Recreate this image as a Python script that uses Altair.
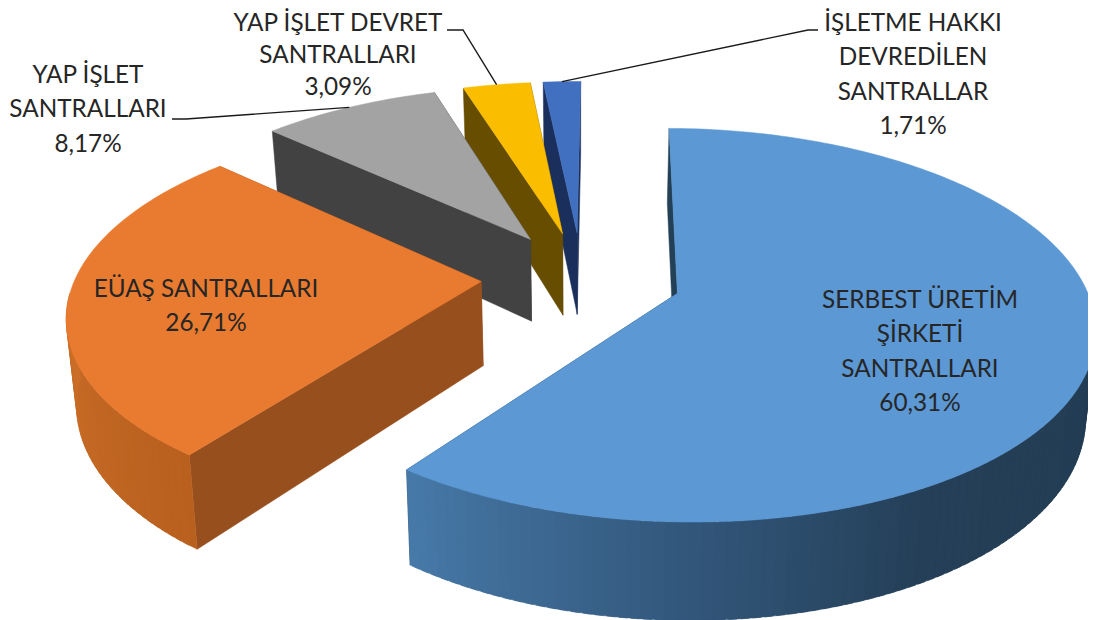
import math
import altair as alt
import pandas as pd

# ---- values
names = ["SERBEST ÜRETİM\nŞİRKETİ\nSANTRALLARI", "EÜAŞ SANTRALLARI", "YAP İŞLET\nSANTRALLARI",
         "YAP İŞLET DEVRET\nSANTRALLARI", "İŞLETME HAKKI\nDEVREDİLEN\nSANTRALLAR"]
shares = [60.31, 26.71, 8.17, 3.09, 1.71]
share_text = ["60,31%", "26,71%", "8,17%", "3,09%", "1,71%"]

# ---- styles
top_col = ["#5b98d4", "#e97b30", "#a3a3a3", "#fabd00", "#4170c0"]
cut_col = ["#234057", "#984f1e", "#424242", "#664d00", "#1b2f5c"]
wall_stops = {
    0: [(90, "#233c53"), (150, "#243f57"), (180, "#32567a"), (218, "#477aa9")],
    1: [(218, "#b9601f"), (270, "#cc7029")],
}
FONT = "Lato"
TXT = "#262626"

# ---- projection of the tilted, exploded pie
XC, YC, A, B, P, H, EXPLODE, START = 581.5, 283.0, 408.0, 189.0, 0.135, 84.0, 0.246, 0.5
BOTTOM_X = 0.98
APEX_LIFT = 5.0


def proj(X, Y, bottom=False, lift=0.0):
    w = 1 / (1 - P * Y)
    if bottom:
        return XC + BOTTOM_X * A * X * w, YC + B * Y * w + H * w - lift
    return XC + A * X * w, YC + B * Y * w - lift


def mix(stops, t):
    if t <= stops[0][0]:
        return stops[0][1]
    for (t0, c0), (t1, c1) in zip(stops, stops[1:]):
        if t <= t1:
            f = (t - t0) / (t1 - t0)
            a = [int(c0[i:i + 2], 16) for i in (1, 3, 5)]
            b = [int(c1[i:i + 2], 16) for i in (1, 3, 5)]
            return "#%02x%02x%02x" % tuple(round(u + (v - u) * f) for u, v in zip(a, b))
    return stops[-1][1]


total = sum(shares)
spans = []
cur = START
for s in shares:
    d = 360 * s / total
    spans.append((cur, cur + d))
    cur += d


def offset(k):
    mid = math.radians(sum(spans[k]) / 2)
    return EXPLODE * math.sin(mid), -EXPLODE * math.cos(mid)


def rim(k, t):
    ox, oy = offset(k)
    r = math.radians(t)
    return ox + math.sin(r), oy - math.cos(r)


rows = []
face = [0]


def add(points, color):
    face[0] += 1
    for i, (x, y) in enumerate(points + points[:1]):
        rows.append({"x": x, "y": y, "i": i, "f": face[0], "c": color})


paint_order = [4, 3, 2, 1, 0]
for k in paint_order:
    t0, t1 = spans[k]
    apex = offset(k)
    # flat cut faces
    for t in (t1, t0):
        p = rim(k, t)
        add([proj(*apex, lift=APEX_LIFT), proj(*p), proj(*p, True), proj(*apex, True, APEX_LIFT)], cut_col[k])
    # outer curved wall, only the part that faces the viewer
    lo, hi = max(t0, 92), min(t1, 268)
    if k in wall_stops and hi > lo:
        n = int((hi - lo) / 1.5) + 1
        step = (hi - lo) / n
        for j in range(n):
            a = lo + step * j
            b = min(a + step * 1.7, hi)      # strips overlap, so that no seam shows
            ts = [a + (b - a) * u / 4 for u in range(5)]
            upper = [proj(*rim(k, t)) for t in ts]
            lower = [proj(*rim(k, t), True) for t in reversed(ts)]
            add(upper + lower, mix(wall_stops[k], a + step / 2))
    # top face
    n = max(int(t1 - t0), 2)
    arc = [proj(*rim(k, t0 + (t1 - t0) * j / n)) for j in range(n + 1)]
    add([proj(*apex, lift=APEX_LIFT)] + arc, top_col[k])

faces = pd.DataFrame(rows)

# ---- label placement (first text line of each block, and the leaders' elbows)
label_at = {0: (920, 301), 1: (206, 290), 2: (88, 76), 4: (913, 24)}
top_label = 3
top_label_at = (338, 23.5)
leader_at = {2: [(172, 119), (186, 119)], 3: [(447, 30), (463, 30)], 4: [(818, 30), (808, 30)]}

labels = pd.DataFrame([
    {"x": xy[0], "y": xy[1], "t": names[k] + "\n" + share_text[k]}
    for k, xy in label_at.items()
])
labels_top = pd.DataFrame([{"x": top_label_at[0], "y": top_label_at[1],
                            "t": names[top_label] + "\n" + share_text[top_label]}])
lead_rows = []
for k, pts in leader_at.items():
    end = proj(*rim(k, sum(spans[k]) / 2))
    for i, (x, y) in enumerate(pts + [end]):
        lead_rows.append({"x": x, "y": y, "i": i, "k": k})
leaders = pd.DataFrame(lead_rows)

xs = alt.Scale(domain=[8, 1088], nice=False, zero=False)
ys = alt.Scale(domain=[620, 8], nice=False, zero=False)
X = alt.X("x:Q", scale=xs, axis=None)
Y = alt.Y("y:Q", scale=ys, axis=None)

pie = alt.Chart(faces).mark_line(strokeWidth=0.5, strokeJoin="round", clip=True).encode(
    x=X, y=Y, order="i:Q", detail="f:N",
    fill=alt.Fill("c:N", scale=None), stroke=alt.Stroke("c:N", scale=None))
lead = alt.Chart(leaders).mark_line(color="#1a1a1a", strokeWidth=1.4).encode(
    x=X, y=Y, order="i:Q", detail="k:N")
text = alt.Chart(labels).mark_text(font=FONT, fontSize=24.3, color=TXT, lineBreak="\n", lineHeight=34.3,
                                   align="center", baseline="middle").encode(x=X, y=Y, text="t:N")
text_top = alt.Chart(labels_top).mark_text(font=FONT, fontSize=24.3, color=TXT, lineBreak="\n", lineHeight=32,
                                           align="center", baseline="middle").encode(x=X, y=Y, text="t:N")

chart = (pie + lead + text + text_top).properties(
    width=1080, height=612, padding=0, autosize=alt.AutoSizeParams(type="none"),
    background="white").configure_view(stroke=None)
chart.save("out.html", embed_options={"renderer": "svg", "actions": False})
